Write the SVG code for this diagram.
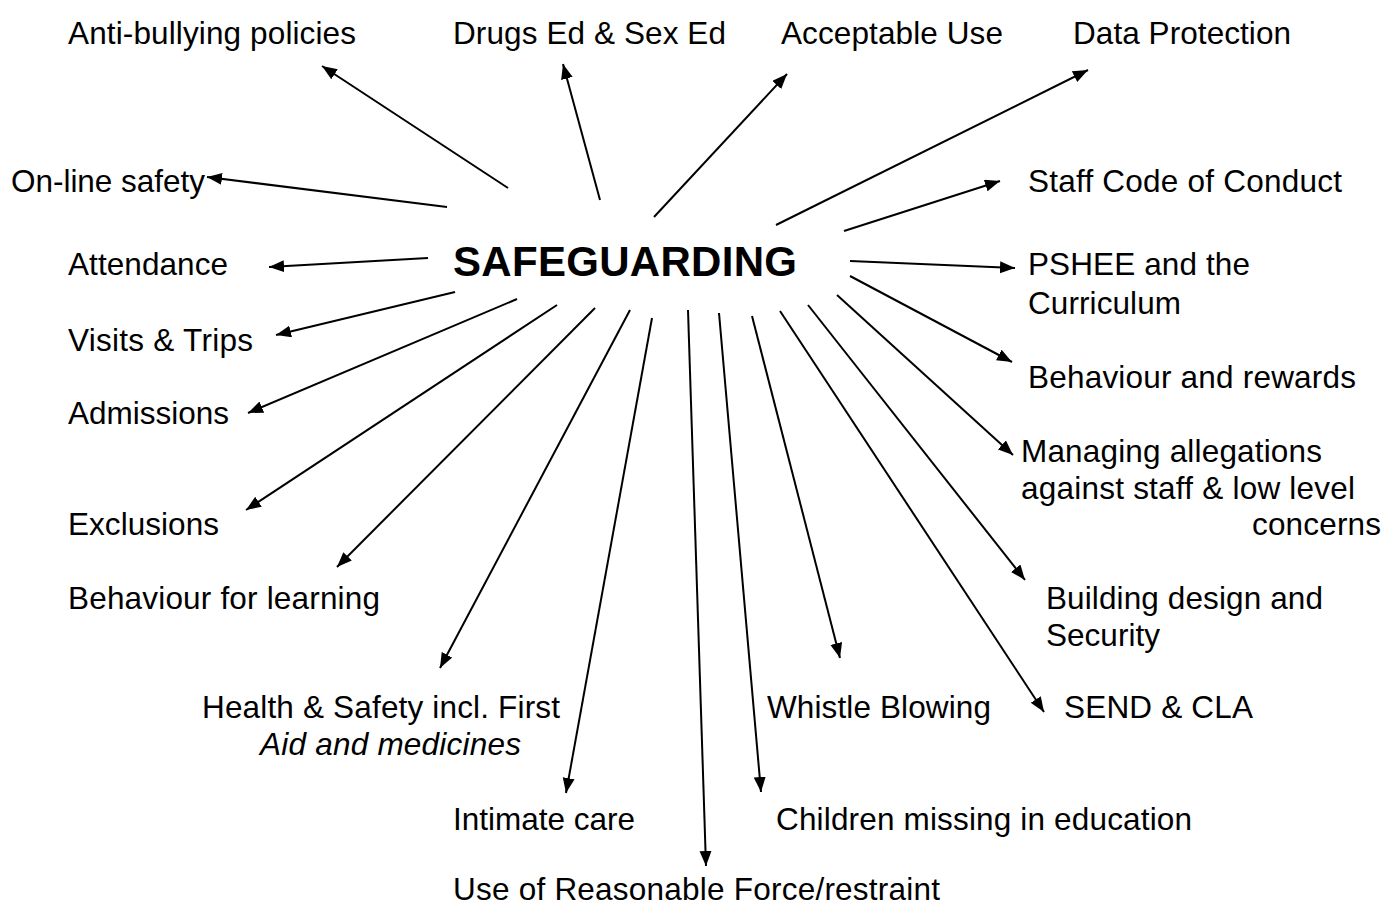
<svg xmlns="http://www.w3.org/2000/svg" width="1383" height="906" viewBox="0 0 1383 906">
<style>
text{font-family:"Liberation Sans",Arial,sans-serif;font-size:31.5px;fill:#000}
.title{font-size:42px;font-weight:bold}
.it{font-style:italic}
.c line{stroke:#000;stroke-width:2;marker-end:url(#ah)}
</style>
<defs>
<marker id="ah" markerUnits="userSpaceOnUse" markerWidth="16" markerHeight="13" refX="15" refY="6" orient="auto">
<path d="M0,0 L15,6 L0,12 z" fill="#000"/>
</marker>
</defs>
<rect width="1383" height="906" fill="#fff"/>
<g id="center"><text class="title" x="453" y="276" textLength="344" lengthAdjust="spacing">SAFEGUARDING</text></g>
<g class="c" id="connectors">
<line x1="508" y1="188" x2="322" y2="66"/>
<line x1="600" y1="200" x2="563" y2="64"/>
<line x1="654" y1="217" x2="787" y2="74"/>
<line x1="776" y1="225" x2="1088" y2="70"/>
<line x1="447" y1="207" x2="207" y2="177"/>
<line x1="844" y1="231" x2="1000" y2="181"/>
<line x1="428" y1="258" x2="269" y2="267"/>
<line x1="850" y1="261" x2="1015" y2="268"/>
<line x1="455" y1="292" x2="276" y2="335"/>
<line x1="850" y1="276" x2="1012" y2="362"/>
<line x1="517" y1="299" x2="248" y2="413"/>
<line x1="837" y1="295" x2="1013" y2="455"/>
<line x1="557" y1="305" x2="246" y2="510"/>
<line x1="808" y1="305" x2="1025" y2="580"/>
<line x1="595" y1="308" x2="337" y2="567"/>
<line x1="780" y1="311" x2="1044" y2="712"/>
<line x1="630" y1="310" x2="440" y2="668"/>
<line x1="752" y1="316" x2="840" y2="658"/>
<line x1="652" y1="318" x2="566" y2="793"/>
<line x1="719" y1="313" x2="761" y2="792"/>
<line x1="688" y1="310" x2="706" y2="866"/>
</g>
<g id="n-antibullying"><text x="68" y="44" textLength="288" lengthAdjust="spacing">Anti-bullying policies</text></g>
<g id="n-drugs"><text x="453" y="44" textLength="273" lengthAdjust="spacing">Drugs Ed &amp; Sex Ed</text></g>
<g id="n-acceptable"><text x="781" y="44" textLength="222" lengthAdjust="spacing">Acceptable Use</text></g>
<g id="n-data"><text x="1073" y="44" textLength="218" lengthAdjust="spacing">Data Protection</text></g>
<g id="n-online"><text x="11" y="192" textLength="194" lengthAdjust="spacing">On-line safety</text></g>
<g id="n-staff"><text x="1028" y="192" textLength="314" lengthAdjust="spacing">Staff Code of Conduct</text></g>
<g id="n-attendance"><text x="68" y="275" textLength="160" lengthAdjust="spacing">Attendance</text></g>
<g id="n-pshee"><text x="1028" y="275" textLength="222" lengthAdjust="spacing">PSHEE and the</text><text x="1028" y="314" textLength="153" lengthAdjust="spacing">Curriculum</text></g>
<g id="n-visits"><text x="68" y="351" textLength="185" lengthAdjust="spacing">Visits &amp; Trips</text></g>
<g id="n-behaviour"><text x="1028" y="388" textLength="328" lengthAdjust="spacing">Behaviour and rewards</text></g>
<g id="n-admissions"><text x="68" y="424" textLength="161" lengthAdjust="spacing">Admissions</text></g>
<g id="n-managing"><text x="1021" y="462" textLength="301" lengthAdjust="spacing">Managing allegations</text><text x="1021" y="499" textLength="334" lengthAdjust="spacing">against staff &amp; low level</text><text x="1252" y="535" textLength="129" lengthAdjust="spacing">concerns</text></g>
<g id="n-exclusions"><text x="68" y="535" textLength="151" lengthAdjust="spacing">Exclusions</text></g>
<g id="n-bfl"><text x="68" y="609" textLength="312" lengthAdjust="spacing">Behaviour for learning</text></g>
<g id="n-building"><text x="1046" y="609" textLength="277" lengthAdjust="spacing">Building design and</text><text x="1046" y="646" textLength="114" lengthAdjust="spacing">Security</text></g>
<g id="n-health"><text x="202" y="718" textLength="358" lengthAdjust="spacing">Health &amp; Safety incl. First</text><text class="it" x="260" y="755" textLength="261" lengthAdjust="spacing">Aid and medicines</text></g>
<g id="n-whistle"><text x="767" y="718" textLength="224" lengthAdjust="spacing">Whistle Blowing</text></g>
<g id="n-send"><text x="1064" y="718" textLength="189" lengthAdjust="spacing">SEND &amp; CLA</text></g>
<g id="n-intimate"><text x="453" y="830" textLength="182" lengthAdjust="spacing">Intimate care</text></g>
<g id="n-children"><text x="776" y="830" textLength="416" lengthAdjust="spacing">Children missing in education</text></g>
<g id="n-force"><text x="453" y="900" textLength="487" lengthAdjust="spacing">Use of Reasonable Force/restraint</text></g>
</svg>
